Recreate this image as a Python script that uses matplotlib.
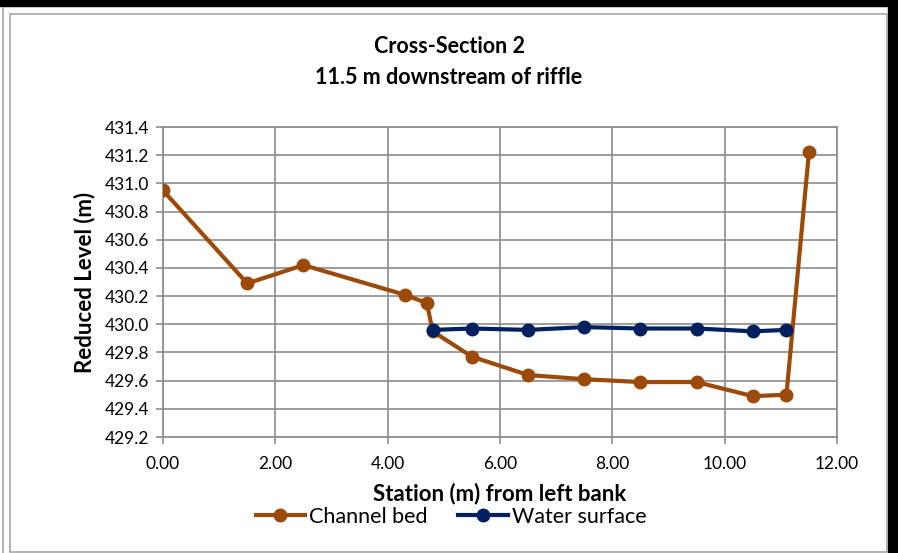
import matplotlib.pyplot as plt
from matplotlib.patches import Rectangle

plt.rcParams['font.family'] = ['Lato', 'DejaVu Sans']

station = [0.0, 1.5, 2.5, 4.3, 4.7, 4.8, 5.5, 6.5, 7.5, 8.5, 9.5, 10.5, 11.1, 11.5]
bed = [430.95, 430.29, 430.42, 430.21, 430.15, 429.95, 429.77, 429.64, 429.61,
       429.59, 429.59, 429.49, 429.50, 431.22]

ws_station = [4.8, 5.5, 6.5, 7.5, 8.5, 9.5, 10.5, 11.1]
ws_level = [429.96, 429.97, 429.96, 429.98, 429.97, 429.97, 429.95, 429.96]

xticks = [0, 2, 4, 6, 8, 10, 12]
yticks = [429.2, 429.4, 429.6, 429.8, 430.0, 430.2, 430.4, 430.6, 430.8, 431.0, 431.2, 431.4]

bed_col = '#9C4A0A'
ws_col = '#002060'
grid_col = '#8C8C8C'

fig = plt.figure(figsize=(8.98, 5.53), dpi=100)
W, H = 898, 553

# frames around the chart
fig.patches.append(Rectangle((0, (H - 6) / H), 1, 6 / H, transform=fig.transFigure,
                             color='black', zorder=0))
fig.patches.append(Rectangle((888 / W, 0), 10 / W, 1, transform=fig.transFigure,
                             color='black', zorder=0))
fig.patches.append(Rectangle((10 / W, 1 / H), 877 / W, (H - 15) / H, transform=fig.transFigure,
                             fill=False, edgecolor='#A6A6A6', lw=1.2, zorder=0))
fig.lines.append(plt.Line2D([2.5 / W, 2.5 / W], [0, (H - 8) / H], transform=fig.transFigure,
                            color='#A6A6A6', lw=1.2))

ax = fig.add_axes([163 / W, (H - 437) / H, (837 - 163) / W, (437 - 127) / H])
ax.plot(station, bed, color=bed_col, lw=3, marker='o', ms=9, label='Channel bed', zorder=3)
ax.plot(ws_station, ws_level, color=ws_col, lw=3, marker='o', ms=9, label='Water surface', zorder=4)

ax.set_xlim(0, 12)
ax.set_ylim(429.2, 431.4)
ax.set_xticks(xticks)
ax.set_xticklabels([f'{v:.2f}' for v in xticks])
ax.set_yticks(yticks)
ax.set_yticklabels([f'{v:.1f}' for v in yticks])
ax.grid(True, color=grid_col, lw=1.2)
ax.set_axisbelow(True)
for s in ax.spines.values():
    s.set_color(grid_col)
    s.set_linewidth(1.2)
ax.tick_params(colors=grid_col, labelcolor='black', labelsize=12.5, length=5, width=1.2, pad=5)
ax.tick_params(axis='x', pad=9)

fig.text(0.5, 1 - 47 / H, 'Cross-Section 2', ha='center', va='center',
         fontsize=15.5, fontweight='bold')
fig.text(0.5, 1 - 77 / H, '11.5 m downstream of riffle', ha='center', va='center',
         fontsize=15.5, fontweight='bold')
fig.text(500 / W, 1 - 494 / H, 'Station (m) from left bank', ha='center', va='center',
         fontsize=16, fontweight='bold')
fig.text(85 / W, 1 - 282 / H, 'Reduced Level (m)', ha='center', va='center',
         rotation=90, fontsize=16, fontweight='bold')

fig.legend(loc='center', bbox_to_anchor=(451 / W, (H - 517) / H), ncol=2, frameon=False,
           fontsize=15.5, handlelength=2.3, handletextpad=0.2, columnspacing=1.4,
           borderpad=0)

fig.savefig('out.png', dpi=100)
